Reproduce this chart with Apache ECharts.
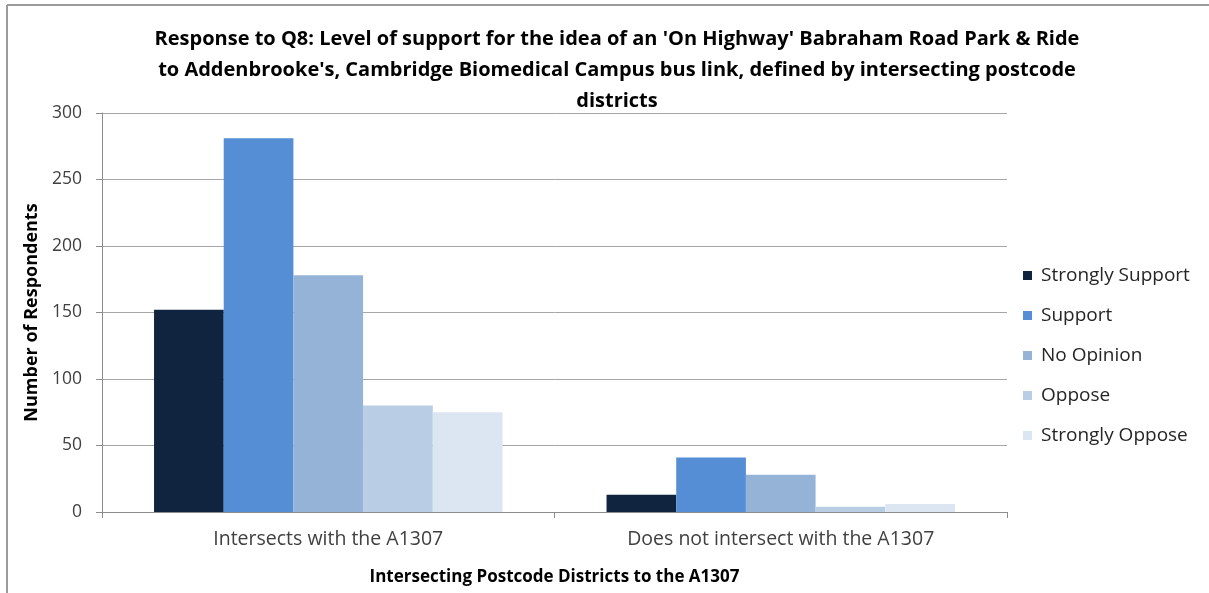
<!DOCTYPE html>
<html><head><meta charset="utf-8">
<script src="https://cdn.jsdelivr.net/npm/echarts@6/dist/echarts.min.js"></script>
<style>html,body{margin:0;padding:0;background:#fff}#c{width:1209px;height:593px}</style>
</head><body><div id="c"></div>
<script>
const categories = ['Intersects with the A1307', 'Does not intersect with the A1307'];
const seriesNames = ['Strongly Support', 'Support', 'No Opinion', 'Oppose', 'Strongly Oppose'];
const stronglySupport = [152, 13];
const support = [281, 41];
const noOpinion = [178, 28];
const oppose = [80, 4];
const stronglyOppose = [75, 6];
const yTicks = [0, 50, 100, 150, 200, 250, 300];
const colors = ['#10243f', '#558ed5', '#95b3d7', '#b9cde5', '#dce6f2'];
const values = [stronglySupport, support, noOpinion, oppose, stronglyOppose];
const FONT = 'Open Sans';

const chart = echarts.init(document.getElementById('c'));
chart.setOption({
  animation: false,
  backgroundColor: '#fff',
  title: {
    text: "Response to Q8: Level of support for the idea of an 'On Highway' Babraham Road Park & Ride\nto Addenbrooke's, Cambridge Biomedical Campus bus link, defined by intersecting postcode\ndistricts",
    left: 612, top: 19, textAlign: 'center',
    textStyle: { fontFamily: FONT, fontSize: 20, fontWeight: 'bold', color: '#000', lineHeight: 31 }
  },
  legend: {
    orient: 'vertical', left: 1018, top: 261, itemGap: 21,
    icon: 'rect', itemWidth: 9, itemHeight: 9,
    textStyle: { fontFamily: FONT, fontSize: 19, color: '#262626', padding: [0, 0, 0, 4] },
    data: seriesNames
  },
  grid: { left: 102, right: 202, top: 113, bottom: 81 },
  xAxis: {
    type: 'category', data: categories,
    name: 'Intersecting Postcode Districts to the A1307', nameLocation: 'middle', nameGap: 57,
    nameTextStyle: { fontFamily: FONT, fontSize: 17, fontWeight: 'bold', color: '#000' },
    axisLine: { lineStyle: { color: '#8c8c8c' } },
    axisTick: { show: true, length: 6, lineStyle: { color: '#8c8c8c' } },
    axisLabel: { fontFamily: FONT, fontSize: 19.5, color: '#404040', margin: 17 }
  },
  yAxis: {
    type: 'value', min: 0, max: 300, interval: 50,
    name: 'Number of Respondents', nameLocation: 'middle', nameGap: 61, nameRotate: 90,
    nameTextStyle: { fontFamily: FONT, fontSize: 18, fontWeight: 'bold', color: '#000' },
    axisLine: { show: true, lineStyle: { color: '#8c8c8c' } },
    axisTick: { show: true, length: 6, lineStyle: { color: '#8c8c8c' } },
    axisLabel: { fontFamily: FONT, fontSize: 17.5, color: '#404040', margin: 20,
      formatter: v => yTicks.includes(v) ? String(v) : '' },
    splitLine: { lineStyle: { color: '#a6a6a6' } }
  },
  series: seriesNames.map((n, i) => ({
    name: n, type: 'bar', data: values[i],
    barGap: '0%', barCategoryGap: '23%',
    itemStyle: { color: colors[i] }
  })),
  graphic: [
    { type: 'line', shape: { x1: 7, y1: 5, x2: 1209, y2: 5 }, style: { stroke: '#9a9a9a', lineWidth: 2 } },
    { type: 'line', shape: { x1: 7, y1: 5, x2: 7, y2: 593 }, style: { stroke: '#9a9a9a', lineWidth: 2 } }
  ]
});
</script></body></html>
